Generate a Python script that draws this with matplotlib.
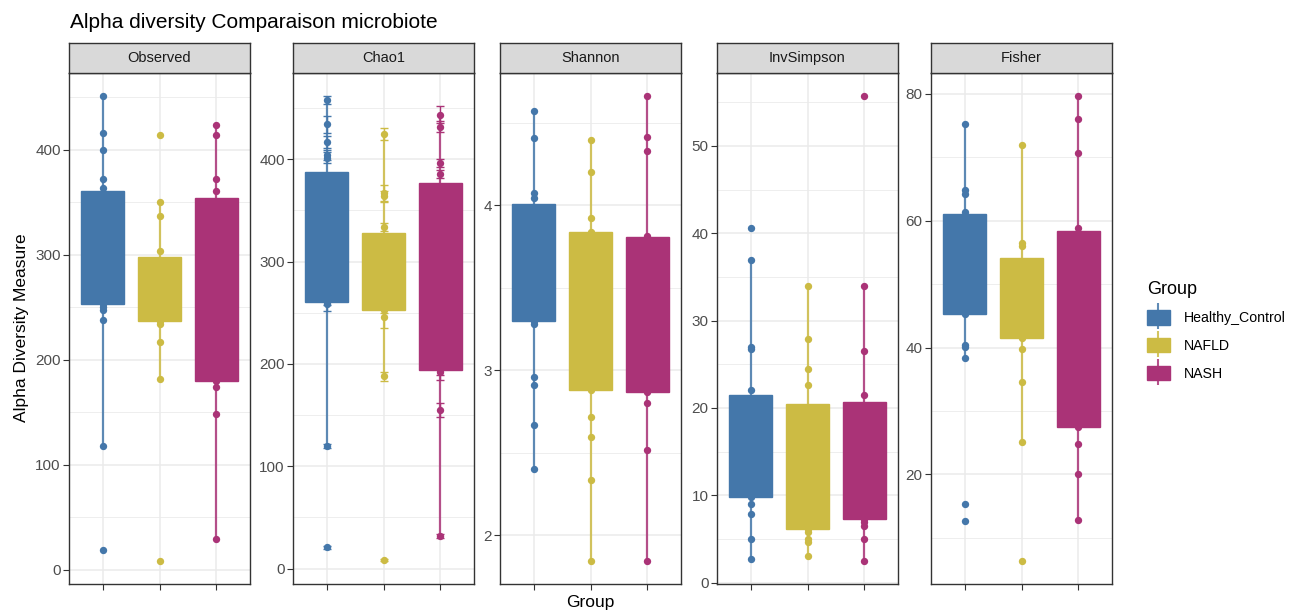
import matplotlib.pyplot as plt
from matplotlib.lines import Line2D
from matplotlib.patches import Patch
from matplotlib.legend_handler import HandlerTuple

plt.rcParams['font.family'] = ['Liberation Sans', 'DejaVu Sans']

groups = ['Healthy_Control', 'NAFLD', 'NASH']
colors = ['#4477AA', '#CCBB44', '#AA3377']
measures = ['Observed', 'Chao1', 'Shannon', 'InvSimpson', 'Fisher']

# visible sample points per group (points inside the boxes are hidden in the original)
observed_pts = [[451, 416, 400, 372, 364, 253, 250, 247, 238, 118, 19],
                [414, 350, 337, 304, 237, 234, 217, 182, 8.5],
                [424, 414, 372, 361, 180, 174, 148, 29.5]]
chao1_pts = [[457.6, 434, 416.7, 404.5, 401.7, 261, 258.5, 119.5, 21],
             [424.7, 366.7, 364.3, 333.6, 252.5, 246, 188, 8.7],
             [443.6, 432, 396.4, 386, 194.5, 192, 155, 32]]
chao1_se = [[4, 8, 6, 5, 5, 3, 7, 2, 1.5],
            [6, 8, 5, 4, 3, 11, 4.5, 1],
            [8, 5, 4, 4, 5, 8, 7, 2]]
shannon_pts = [[4.575, 4.406, 4.076, 4.043, 3.297, 3.282, 2.959, 2.908, 2.666, 2.402],
               [4.394, 4.205, 3.926, 3.84, 2.878, 2.718, 2.597, 2.337, 1.844],
               [4.662, 4.415, 4.331, 3.816, 2.869, 2.804, 2.515, 1.844]]
invsimpson_pts = [[40.6, 36.9, 27.0, 26.7, 22.0, 9.8, 9.0, 7.8, 5.0, 2.7],
                  [34.0, 27.9, 24.5, 22.6, 6.1, 5.8, 5.0, 4.6, 3.1],
                  [55.7, 34.0, 26.5, 21.5, 7.3, 6.9, 6.5, 5.0, 2.5]]
fisher_pts = [[75.3, 64.8, 64.2, 61.4, 45.3, 40.4, 40.1, 38.4, 15.4, 12.7],
              [71.9, 56.4, 56.0, 41.5, 39.7, 34.5, 25.1, 6.4],
              [79.6, 76.0, 70.7, 58.9, 27.5, 24.8, 20.0, 12.8]]

# box stats per group: (q1, median, q3, lower whisker, upper whisker)
observed_box = [(253, 300, 361, 118, 451), (237, 265, 298, 182, 350), (180, 260, 354, 29.5, 424)]
chao1_box = [(261, 320, 388, 119.5, 457.6), (252.5, 290, 328, 188, 424.7), (194.5, 290, 377, 32, 443.6)]
shannon_box = [(3.297, 3.7, 4.011, 2.402, 4.575), (2.878, 3.4, 3.838, 1.844, 4.394),
               (2.869, 3.3, 3.808, 1.844, 4.662)]
invsimpson_box = [(9.8, 15, 21.5, 2.7, 36.9), (6.1, 12, 20.4, 3.1, 34.0), (7.3, 13, 20.7, 2.5, 34.0)]
fisher_box = [(45.3, 55, 61.1, 38.4, 75.3), (41.5, 48, 54.1, 25.1, 71.9), (27.5, 42, 58.4, 12.8, 79.6)]

ticks = {'Observed': [0, 100, 200, 300, 400],
         'Chao1': [0, 100, 200, 300, 400],
         'Shannon': [2, 3, 4],
         'InvSimpson': [0, 10, 20, 30, 40, 50],
         'Fisher': [20, 40, 60, 80]}

points = {'Observed': observed_pts, 'Chao1': chao1_pts, 'Shannon': shannon_pts,
          'InvSimpson': invsimpson_pts, 'Fisher': fisher_pts}
boxes = {'Observed': observed_box, 'Chao1': chao1_box, 'Shannon': shannon_box,
         'InvSimpson': invsimpson_box, 'Fisher': fisher_box}

W, H = 1299, 613
fig = plt.figure(figsize=(W / 100, H / 100), dpi=100)

lefts = [69, 293, 500, 717, 931]
pw = 181
ptop, pbot = 73, 584
strip_h = 30

for i, m in enumerate(measures):
    ax = fig.add_axes([lefts[i] / W, (H - pbot) / H, pw / W, (pbot - ptop) / H])
    lo, hi = [], []
    for g in range(3):
        vals = points[m][g]
        x = [g + 1] * len(vals)
        if m == 'Chao1':
            se = chao1_se[g]
            ax.errorbar(x, vals, yerr=se, fmt='none', ecolor=colors[g], elinewidth=1.0,
                        capsize=3, capthick=1.0, zorder=2)
            lo += [v - e for v, e in zip(vals, se)]
            hi += [v + e for v, e in zip(vals, se)]
        else:
            lo += vals
            hi += vals
        ax.scatter(x, vals, s=28, color=colors[g], zorder=3, linewidths=0)

        q1, med, q3, wlo, whi = boxes[m][g]
        stats = [dict(q1=q1, med=med, q3=q3, whislo=wlo, whishi=whi, fliers=[])]
        ax.bxp(stats, positions=[g + 1], widths=0.76, patch_artist=True, showcaps=False,
               showfliers=False, zorder=4,
               boxprops=dict(facecolor=colors[g], edgecolor=colors[g], linewidth=1.0),
               whiskerprops=dict(color=colors[g], linewidth=1.6, alpha=0.85),
               medianprops=dict(color=colors[g], linewidth=1.0))

    ymin, ymax = min(lo), max(hi)
    pad = (ymax - ymin) * 0.05
    ax.set_xlim(0.4, 3.6)
    ax.set_xticks([1, 2, 3])
    ax.set_xticklabels([])
    tk = ticks[m]
    ax.set_yticks(tk)
    ax.set_yticks([(a + b) / 2 for a, b in zip(tk[:-1], tk[1:])] +
                  [tk[-1] + (tk[1] - tk[0]) / 2, tk[0] - (tk[1] - tk[0]) / 2], minor=True)
    ax.set_ylim(ymin - pad, ymax + pad)
    ax.grid(True, which='major', color='#EBEBEB', linewidth=1.1, zorder=0)
    ax.grid(True, which='minor', axis='y', color='#EBEBEB', linewidth=0.6, zorder=0)
    ax.set_axisbelow(True)
    ax.tick_params(axis='both', which='major', length=4, color='#333333', labelsize=11,
                   labelcolor='#4D4D4D', pad=2)
    ax.tick_params(axis='y', which='minor', length=0)
    for s in ax.spines.values():
        s.set_color('#333333')
        s.set_linewidth(1.0)

    sax = fig.add_axes([lefts[i] / W, (H - ptop) / H, pw / W, strip_h / H])
    sax.set_facecolor('#D9D9D9')
    sax.set_xticks([])
    sax.set_yticks([])
    for s in sax.spines.values():
        s.set_color('#333333')
        s.set_linewidth(1.0)
    sax.text(0.5, 0.5, m, ha='center', va='center', fontsize=10.5, color='#1A1A1A',
             transform=sax.transAxes)

fig.text(70 / W, 1 - 22 / H, 'Alpha diversity Comparaison microbiote', fontsize=15,
         ha='left', va='center')
fig.text(22 / W, 1 - 328 / H, 'Alpha Diversity Measure', fontsize=12.5, rotation=90,
         ha='center', va='center')
fig.text(590 / W, 1 - 603 / H, 'Group', fontsize=12.5, ha='center', va='center')

handles = []
for c in colors:
    vline = Line2D([], [], marker='|', markersize=19, markeredgewidth=1.5, linestyle='none',
                   color=c, alpha=0.85)
    patch = Patch(facecolor=c, edgecolor=c)
    handles.append((vline, patch))
leg = fig.legend(handles, groups, loc='upper left', bbox_to_anchor=(1134 / W, 1 - 268 / H),
                 frameon=False, fontsize=10.2, title='Group', title_fontsize=13,
                 handlelength=1.65, handleheight=1.16, labelspacing=0.9, handletextpad=1.0,
                 handler_map={tuple: HandlerTuple(ndivide=1)})
leg._legend_box.align = 'left'

fig.savefig('out.png', dpi=100)
